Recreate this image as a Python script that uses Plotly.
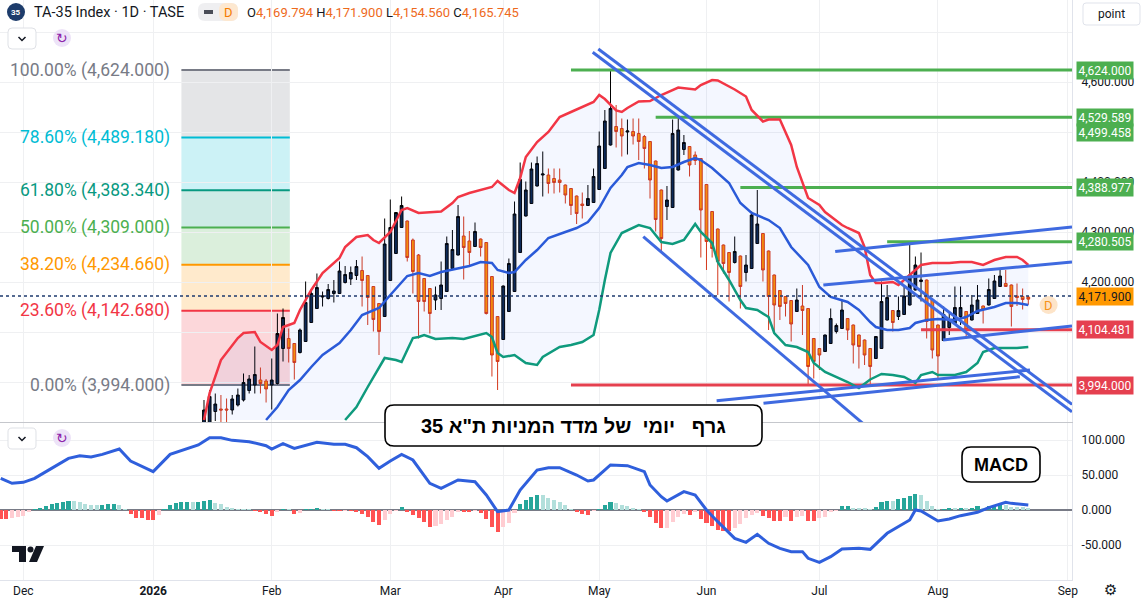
import plotly.graph_objects as go

# ---------------- price candles ----------------
# x = trading-day index (0 = first bar of December)
first_bar = 32
opens = [
    3910, 3915, 3941, 3946, 3946, 3944, 3954, 3964, 3983, 3994,
    4004, 4002, 3994, 3997, 4067, 4087, 4077, 4059, 4081, 4119,
    4147, 4170, 4167, 4177, 4177, 4199, 4206, 4213, 4223, 4213,
    4191, 4157, 4131, 4203, 4257, 4309, 4322, 4284, 4254, 4207,
    4187, 4164, 4167, 4181, 4227, 4254, 4292, 4282, 4271, 4286,
    4279, 4211, 4131, 4085, 4141, 4181, 4259, 4332, 4357, 4392,
    4414, 4414, 4407, 4404, 4394, 4387, 4372, 4356, 4353, 4359,
    4385, 4427, 4474, 4511, 4507, 4500, 4501, 4497, 4491, 4481,
    4442, 4384, 4351, 4349, 4424, 4465, 4471, 4454, 4447, 4395,
    4341, 4306, 4274, 4259, 4239, 4252, 4219, 4227, 4277, 4297,
    4262, 4214, 4183, 4171, 4163, 4141, 4152, 4147, 4087, 4067,
    4061, 4077, 4101, 4107, 4127, 4114, 4094, 4084, 4067, 4047,
    4067, 4124, 4143, 4131, 4135, 4154, 4184, 4201, 4204, 4164,
    4114, 4083, 4109, 4117, 4131, 4141, 4124, 4137, 4152, 4154,
    4167, 4191, 4197, 4194, 4172, 4171, 4169.794,
]
highs = [
    3964, 3984, 3977, 3974, 3967, 3974, 3987, 4017, 4014, 4071,
    4029, 4006, 4047, 4137, 4147, 4107, 4078, 4107, 4201, 4184,
    4217, 4181, 4196, 4204, 4241, 4232, 4231, 4244, 4251, 4214,
    4192, 4158, 4327, 4365, 4340, 4371, 4323, 4287, 4256, 4208,
    4188, 4191, 4241, 4291, 4304, 4354, 4331, 4302, 4319, 4287,
    4280, 4212, 4132, 4193, 4247, 4361, 4439, 4401, 4439, 4451,
    4461, 4427, 4427, 4427, 4395, 4388, 4373, 4379, 4394, 4427,
    4501, 4544, 4624, 4554, 4527, 4525, 4527, 4527, 4494, 4482,
    4443, 4385, 4392, 4525, 4534, 4494, 4472, 4461, 4448, 4396,
    4342, 4307, 4275, 4260, 4291, 4253, 4254, 4341, 4384, 4298,
    4263, 4215, 4184, 4172, 4164, 4187, 4194, 4148, 4088, 4068,
    4095, 4147, 4117, 4165, 4128, 4115, 4095, 4085, 4068, 4092,
    4201, 4194, 4144, 4171, 4192, 4274, 4251, 4259, 4205, 4165,
    4115, 4151, 4141, 4191, 4191, 4142, 4174, 4194, 4153, 4207,
    4214, 4225, 4224, 4195, 4197, 4187, 4171.9,
]
lows = [
    3905, 3910, 3922, 3920, 3918, 3935, 3951, 3961, 3977, 3977,
    3977, 3959, 3945, 3995, 4041, 4039, 4005, 4057, 4080, 4118,
    4146, 4151, 4165, 4159, 4176, 4197, 4194, 4204, 4151, 4114,
    4101, 4054, 4130, 4202, 4256, 4308, 4241, 4177, 4087, 4141,
    4097, 4144, 4144, 4180, 4224, 4253, 4205, 4231, 4270, 4251,
    4135, 4011, 3984, 4084, 4140, 4180, 4258, 4331, 4356, 4391,
    4371, 4377, 4377, 4379, 4357, 4334, 4316, 4327, 4352, 4358,
    4384, 4426, 4473, 4469, 4451, 4455, 4475, 4444, 4427, 4367,
    4301, 4261, 4324, 4348, 4423, 4454, 4411, 4434, 4249, 4224,
    4249, 4174, 4217, 4161, 4237, 4147, 4201, 4226, 4276, 4201,
    4104, 4101, 4124, 4131, 4081, 4140, 4094, 3994, 4007, 4024,
    4060, 4076, 4097, 4106, 4084, 4037, 4027, 4034, 3994, 4046,
    4066, 4123, 4101, 4124, 4134, 4153, 4183, 4161, 4087, 4047,
    4004, 4082, 4094, 4116, 4114, 4087, 4123, 4136, 4117, 4153,
    4166, 4190, 4190, 4111, 4152, 4145, 4154.56,
]
closes = [
    3944, 3971, 3956, 3944, 3944, 3966, 3974, 3999, 4006, 4015,
    3997, 3986, 4004, 4097, 4129, 4067, 4039, 4104, 4159, 4177,
    4189, 4172, 4185, 4182, 4222, 4215, 4219, 4231, 4203, 4169,
    4125, 4101, 4276, 4309, 4339, 4353, 4249, 4221, 4161, 4161,
    4137, 4174, 4194, 4277, 4265, 4331, 4269, 4259, 4301, 4269,
    4137, 4054, 4041, 4192, 4237, 4336, 4405, 4384, 4426, 4437,
    4416, 4397, 4399, 4399, 4374, 4353, 4337, 4353, 4367, 4411,
    4472, 4522, 4547, 4501, 4492, 4502, 4492, 4481, 4467, 4404,
    4325, 4287, 4364, 4497, 4504, 4479, 4434, 4443, 4344, 4281,
    4267, 4241, 4237, 4219, 4261, 4191, 4234, 4334, 4316, 4224,
    4171, 4154, 4151, 4157, 4116, 4164, 4143, 4031, 4041, 4054,
    4094, 4127, 4113, 4144, 4104, 4074, 4071, 4054, 4031, 4091,
    4161, 4169, 4119, 4143, 4172, 4214, 4234, 4204, 4121, 4064,
    4052, 4135, 4125, 4149, 4149, 4105, 4154, 4164, 4145, 4185,
    4202, 4212, 4191, 4151, 4169, 4165, 4165.745,
]
candle_bars = list(range(first_bar, first_bar + len(closes)))

# ---------------- Bollinger bands (bar, value) ----------------
bb_upper_bars = [32, 33, 35, 38, 39, 41, 42, 44, 45, 46, 47, 48, 49, 51, 53, 56, 57, 59, 61, 62,
                 63, 65, 67, 68, 70, 74, 76, 77, 79, 81, 83, 84, 86, 87, 88, 89, 91, 93, 95, 97,
                 99, 101, 102, 103, 105, 106, 107, 109, 111, 113, 116, 119, 120, 122, 123, 126, 128, 129, 131, 132,
                 134, 136, 137, 139, 141, 142, 145, 146, 148, 149, 150, 151, 152, 154, 155, 157, 159, 161, 164, 166,
                 168, 170, 172, 174, 176, 177, 178]
bb_upper = [3924, 3978, 4044, 4088, 4098, 4100, 4080, 4064, 4074, 4110, 4114, 4118, 4144, 4184, 4218, 4248, 4270, 4290, 4294, 4284,
            4278, 4300, 4344, 4348, 4338, 4341, 4358, 4370, 4378, 4384, 4390, 4402, 4384, 4378, 4408, 4450, 4480, 4500, 4530, 4540,
            4550, 4560, 4574, 4566, 4543, 4540, 4548, 4561, 4562, 4574, 4589, 4585, 4594, 4604, 4603, 4585, 4571, 4544, 4521, 4525,
            4525, 4474, 4430, 4368, 4354, 4340, 4314, 4308, 4298, 4270, 4214, 4198, 4198, 4200, 4194, 4214, 4234, 4238, 4238, 4240,
            4240, 4234, 4244, 4250, 4250, 4244, 4234]
bb_mid_bars = [43, 45, 47, 49, 51, 53, 56, 58, 60, 63, 65, 67, 68, 70, 72, 74, 77, 79, 81, 83,
               84, 86, 87, 89, 91, 93, 96, 98, 100, 102, 104, 106, 107, 109, 111, 113, 115, 117, 119, 120,
               122, 125, 127, 129, 132, 134, 136, 139, 141, 143, 146, 148, 150, 151, 153, 155, 157, 158, 160, 162,
               165, 167, 169, 172, 174, 176, 178]
bb_mid = [3924, 3950, 3984, 4004, 4030, 4054, 4078, 4104, 4134, 4148, 4174, 4200, 4212, 4218, 4212, 4220, 4228, 4232, 4240, 4238,
          4224, 4218, 4220, 4244, 4264, 4288, 4300, 4308, 4320, 4348, 4388, 4414, 4430, 4438, 4434, 4428, 4430, 4440, 4448, 4444,
          4428, 4398, 4358, 4338, 4324, 4308, 4270, 4234, 4190, 4170, 4160, 4144, 4120, 4110, 4104, 4104, 4108, 4118, 4124, 4126,
          4124, 4130, 4142, 4150, 4158, 4158, 4154]
bb_lower_bars = [57, 59, 61, 63, 64, 66, 67, 68, 69, 70, 71, 73, 76, 78, 80, 82, 83, 84, 85, 87,
                 89, 91, 92, 95, 97, 99, 101, 102, 103, 104, 106, 108, 109, 111, 113, 115, 117, 119, 120, 122,
                 123, 125, 127, 128, 130, 132, 133, 135, 137, 139, 140, 142, 144, 146, 148, 150, 152, 154, 156, 158,
                 159, 161, 162, 165, 167, 169, 170, 172, 174, 176, 178]
bb_lower = [3924, 3950, 3990, 4030, 4048, 4044, 4040, 4064, 4088, 4090, 4094, 4086, 4088, 4086, 4092, 4098, 4090, 4058, 4050, 4054,
            4038, 4034, 4050, 4070, 4074, 4080, 4094, 4144, 4204, 4258, 4298, 4308, 4314, 4308, 4280, 4276, 4284, 4316, 4300, 4278,
            4240, 4204, 4164, 4148, 4144, 4130, 4098, 4074, 4070, 4060, 4038, 4020, 4010, 4000, 3988, 4005, 4016, 4014, 4010, 3998,
            4014, 4020, 4014, 4014, 4020, 4038, 4060, 4068, 4068, 4068, 4070]

# ---------------- MACD pane ----------------
macd_bars = [-4, -2, 0, 2, 5, 8, 10, 12, 14, 17, 19, 23, 26, 31, 33, 35, 37, 40, 43, 44,
             46, 48, 52, 55, 57, 59, 61, 63, 65, 67, 69, 72, 74, 77, 80, 82, 84, 86, 88, 91,
             93, 95, 98, 100, 101, 104, 107, 110, 111, 113, 114, 117, 119, 121, 123, 125, 126, 128, 130, 132,
             134, 136, 138, 139, 141, 143, 145, 148, 150, 153, 155, 157, 158, 159, 162, 164, 166, 169, 171, 174,
             175, 178]
macd_line = [45.2, 38.1, 39.5, 45.2, 59.5, 73.8, 77.6, 75.7, 79.5, 87.1, 70.0, 54.8, 79.5, 92.9, 103.3, 103.3, 99.5, 97.6, 91.9, 87.1,
             94.8, 88.1, 96.7, 93.8, 93.8, 89.0, 76.2, 59.5, 70.0, 79.5, 71.4, 38.1, 31.0, 42.9, 40.5, 21.4, -2.4, 0.0, 28.6, 57.1,
             60.5, 60.5, 50.0, 41.4, 42.9, 64.3, 63.3, 54.8, 35.7, 19.0, 12.9, 26.2, 21.4, 0.0, -16.7, -33.3, -40.5, -46.2, -34.8, -47.6,
             -54.8, -59.5, -59.5, -69.0, -74.8, -66.7, -55.7, -54.8, -56.2, -33.3, -23.8, -14.3, 0.0, -1.4, -15.7, -12.9, -8.1, -3.3, 3.3, 11.0,
             9.5, 7.1]
hist_first_bar = -4
macd_hist = [
    -12.9, -12.9, -11.0, -9.5, -8.0, -3.3, 1.4, 2.4, 5.7, 8.6,
    10.5, 11.9, 12.9, 12.6, 11.0, 8.6, 7.1, 7.0, 7.3, 8.1,
    8.6, 7.1, 0.5, -6.2, -11.0, -11.9, -13.8, -14.5, -7.1, 1.4,
    7.1, 10.0, 11.0, 11.5, 11.0, 11.4, 12.4, 13.8, 10.5, 8.1,
    4.3, 2.4, 1.2, 0.8, 0.5, -1.0, -3.3, -5.7, -8.1, -3.3,
    1.4, 0.3, -5.2, -3.8, 0.8, 1.0, 3.3, 1.0, 0.5, -0.5,
    -0.8, -0.5, -1.4, -3.3, -6.2, -10.0, -16.7, -21.4, -14.3, -6.2,
    -1.4, 4.8, -2.4, -7.1, -11.9, -16.7, -23.8, -23.0, -20.5, -14.3,
    -9.5, -2.0, -2.4, -3.3, -1.4, -4.8, -12.9, -23.8, -31.0, -23.8,
    -19.0, -3.8, 8.1, 14.3, 18.1, 21.4, 21.0, 17.6, 14.3, 11.0,
    7.1, 0.5, -3.3, -6.2, -6.5, -1.4, 1.4, 7.1, 11.0, 9.5,
    7.1, 5.7, 2.4, 0.3, -3.3, -9.5, -19.0, -26.2, -25.5, -16.7,
    -9.5, -6.2, -6.8, -3.3, -12.9, -19.0, -22.9, -28.6, -30.0, -30.5,
    -26.2, -20.5, -11.9, -7.1, -4.8, -8.1, -11.9, -15.7, -16.0, -9.5,
    -15.7, -9.5, -9.0, -15.7, -16.0, -11.0, -9.5, -3.3, -0.3, 5.7,
    5.9, 3.3, 3.0, 2.4, 0.4, 4.8, 11.0, 12.9, 12.5, 15.7,
    16.7, 20.5, 22.9, 21.4, 12.9, 5.7, 0.3, 1.4, 2.4, 2.2,
    3.3, 2.4, 3.3, 5.2, 3.3, 6.2, 7.1, 8.1, 7.1, 4.8,
    4.3, 3.8, 2.4,
]
hist_bars = list(range(hist_first_bar, hist_first_bar + len(macd_hist)))

# ---------------- axis labels ----------------
month_bars = [0, 23, 44, 65, 85, 102, 121, 141, 162, 185]
month_names = ["Dec", "<b>2026</b>", "Feb", "Mar", "Apr", "May", "Jun", "Jul", "Aug", "Sep"]
price_ticks = [4000, 4100, 4200, 4300, 4400, 4500, 4600, 4700]
price_tick_text = ["", "", "4,200.000", "4,300.000", "4,400.000", "", "4,600.000", ""]  # others sit under tags
macd_ticks = [-50, 0, 50, 100]

# ---------------- drawings ----------------
fib_ratios = [1.0, 0.786, 0.618, 0.5, 0.382, 0.236, 0.0]
fib_prices = [4624.0, 4489.18, 4383.34, 4309.0, 4234.66, 4142.68, 3994.0]
fib_colors = ["#787b86", "#00bcd4", "#089981", "#4caf50", "#ff9800", "#f23645", "#787b86"]
fib_fills = ["rgba(120,123,134,0.2)", "rgba(0,188,212,0.2)", "rgba(8,153,129,0.2)",
             "rgba(76,175,80,0.2)", "rgba(255,152,0,0.2)", "rgba(242,54,69,0.2)"]
fib_from_bar, fib_to_bar = 28.0, 47.2

level_prices = [4624.0, 4529.589, 4388.977, 4280.505, 4104.481, 3994.0]
level_from_bars = [97, 112, 127, 153, 159, 97]
level_colors = ["#4caf50", "#4caf50", "#4caf50", "#4caf50", "#e5404f", "#e5404f"]

# price-scale tags: (price, text, background, text colour)
scale_tags = [
    (4624.0, "4,624.000", "#4caf50", "white"),
    (4529.589, "4,529.589", "#4caf50", "white"),
    (4499.458, "4,499.458", "#4caf50", "white"),
    (4388.977, "4,388.977", "#4caf50", "white"),
    (4280.505, "4,280.505", "#4caf50", "white"),
    (4171.9, "4,171.900", "#ff9800", "#131722"),
    (4104.481, "4,104.481", "#e5404f", "white"),
    (3994.0, "3,994.000", "#e5404f", "white"),
]
last_price = 4171.9

# trend lines: (bar0, price0, bar1, price1)
trend_lines = [
    (100.85, 4659.4, 185.74, 3940.4),
    (101.84, 4666.0, 185.74, 3955.4),
    (109.8, 4290.6, 150.0, 3904.7),
    (143.8, 4261.0, 185.74, 4310.0),
    (141.7, 4194.0, 185.74, 4240.0),
    (122.8, 3962.6, 178.3, 4024.0),
    (131.1, 3957.4, 176.5, 4010.6),
    (162.9, 4084.0, 185.74, 4112.0),
]

X_LO, X_HI = -4.13, 185.74
FONT = "Roboto, Liberation Sans, sans-serif"
W, H = 1147, 610
PW, PH = 1072, 580          # plot area in pixels


def px(x):
    return x / PW


def py(y):
    return (PH - y) / PH


def rrect(x0, y0, x1, y1, r):
    pts = [("M", x0 + r, y0), ("L", x1 - r, y0), ("Q", x1, y0, x1, y0 + r), ("L", x1, y1 - r),
           ("Q", x1, y1, x1 - r, y1), ("L", x0 + r, y1), ("Q", x0, y1, x0, y1 - r),
           ("L", x0, y0 + r), ("Q", x0, y0, x0 + r, y0)]
    out = ""
    for p in pts:
        if p[0] == "Q":
            out += f"Q{px(p[1]):.5f},{py(p[2]):.5f} {px(p[3]):.5f},{py(p[4]):.5f} "
        else:
            out += f"{p[0]}{px(p[1]):.5f},{py(p[2]):.5f} "
    return out + "Z"


def poly(points):
    return "M" + " L".join(f"{px(a):.5f},{py(b):.5f}" for a, b in points) + " Z"


def note(x, y, text, size, color, family=FONT, xanchor="center", **kw):
    return dict(x=px(x), y=py(y), xref="paper", yref="paper", xanchor=xanchor, yanchor="middle",
                showarrow=False, text=text, font=dict(size=size, color=color, family=family), **kw)


fig = go.Figure()

# Bollinger band fill (upper path then lower path back)
fig.add_trace(go.Scatter(
    x=bb_upper_bars + bb_lower_bars[::-1], y=bb_upper + bb_lower[::-1],
    fill="toself", fillcolor="rgba(41,98,255,0.05)", line=dict(width=0),
    mode="lines", hoverinfo="skip", showlegend=False))

for price, start, col in zip(level_prices, level_from_bars, level_colors):
    fig.add_trace(go.Scatter(x=[start, X_HI], y=[price, price], mode="lines",
                             line=dict(color=col, width=3), hoverinfo="skip", showlegend=False))

fig.add_trace(go.Scatter(x=bb_upper_bars, y=bb_upper, mode="lines",
                         line=dict(color="#f23645", width=2.5), hoverinfo="skip", showlegend=False))
fig.add_trace(go.Scatter(x=bb_mid_bars, y=bb_mid, mode="lines",
                         line=dict(color="#2a5ad8", width=2.5), hoverinfo="skip", showlegend=False))
fig.add_trace(go.Scatter(x=bb_lower_bars, y=bb_lower, mode="lines",
                         line=dict(color="#0f9a7d", width=2.5), hoverinfo="skip", showlegend=False))

fig.add_trace(go.Candlestick(
    x=candle_bars, open=opens, high=highs, low=lows, close=closes,
    increasing=dict(fillcolor="#0c2850", line=dict(color="#000000", width=1)),
    decreasing=dict(fillcolor="#ff8f00", line=dict(color="#d4391c", width=1)),
    whiskerwidth=0, hoverinfo="skip", showlegend=False))

for b0, p0, b1, p1 in trend_lines:
    fig.add_trace(go.Scatter(x=[b0, b1], y=[p0, p1], mode="lines",
                             line=dict(color="#3f6ae0", width=3), hoverinfo="skip", showlegend=False))

# MACD histogram colours: growing / falling
hist_colors = []
prev = None
for v in macd_hist:
    if v >= 0:
        hist_colors.append("#26a69a" if prev is None or v >= prev else "#b2dfdb")
    else:
        hist_colors.append("#ff5252" if prev is None or v <= prev else "#ffcdd2")
    prev = v

fig.add_trace(go.Bar(x=hist_bars, y=macd_hist, marker=dict(color=hist_colors, line=dict(width=0)),
                     width=0.72, xaxis="x2", yaxis="y2", hoverinfo="skip", showlegend=False))
fig.add_trace(go.Scatter(x=macd_bars, y=macd_line, mode="lines", line=dict(color="#2f5fdc", width=3),
                         xaxis="x2", yaxis="y2", hoverinfo="skip", showlegend=False))

shapes = []
# fibonacci retracement box
for k in range(len(fib_fills)):
    shapes.append(dict(type="rect", xref="x", yref="y", x0=fib_from_bar, x1=fib_to_bar,
                       y0=fib_prices[k + 1], y1=fib_prices[k], fillcolor=fib_fills[k],
                       line=dict(width=0), layer="below"))
for price, col in zip(fib_prices, fib_colors):
    shapes.append(dict(type="line", xref="x", yref="y", x0=fib_from_bar, x1=fib_to_bar,
                       y0=price, y1=price, line=dict(color=col, width=2), layer="below"))

# last price dotted line
shapes.append(dict(type="line", xref="x domain", yref="y", x0=0, x1=1, y0=last_price, y1=last_price,
                   line=dict(color="#1e3a6e", width=1.5, dash="dot")))

# "D" marker
shapes.append(dict(type="circle", xref="x", yref="y", x0=180.0, x1=183.2, y0=4136, y1=4172,
                   fillcolor="#fde4c8", line=dict(width=0)))

# text boxes
shapes.append(dict(type="path", xref="paper", yref="paper", path=rrect(385, 405, 762, 446, 9),
                   fillcolor="white", line=dict(color="#000000", width=1.6)))
shapes.append(dict(type="path", xref="paper", yref="paper", path=rrect(962, 447, 1040, 482, 9),
                   fillcolor="white", line=dict(color="#000000", width=1.6)))

# header / pane widgets
shapes.append(dict(type="circle", xref="paper", yref="paper", x0=px(7), x1=px(25), y0=py(21), y1=py(3),
                   fillcolor="#1d3c6b", line=dict(width=0)))
shapes.append(dict(type="path", xref="paper", yref="paper", path=rrect(198, 3, 238, 21, 7),
                   fillcolor="#efeff1", line=dict(width=0)))
shapes.append(dict(type="path", xref="paper", yref="paper", path=rrect(219, 3, 238, 21, 7),
                   fillcolor="#fde8d0", line=dict(width=0)))
shapes.append(dict(type="rect", xref="paper", yref="paper", x0=px(204), x1=px(213), y0=py(14), y1=py(10),
                   fillcolor="#4a4d57", line=dict(width=0)))
for top in (28, 428):
    shapes.append(dict(type="path", xref="paper", yref="paper", path=rrect(8, top, 36, top + 21, 4),
                       fillcolor="white", line=dict(color="#dfe1e6", width=1)))
    shapes.append(dict(type="path", xref="paper", yref="paper",
                       path=f"M{px(18.5):.5f},{py(top + 9):.5f} L{px(22):.5f},{py(top + 12.5):.5f} L{px(25.5):.5f},{py(top + 9):.5f}",
                       line=dict(color="#131722", width=1.5)))
    shapes.append(dict(type="circle", xref="paper", yref="paper", x0=px(53), x1=px(71),
                       y0=py(top + 19), y1=py(top + 1), fillcolor="#ede3f8", line=dict(width=0)))
shapes.append(dict(type="path", xref="paper", yref="paper", path=rrect(1083, 3, 1140, 25, 3),
                   fillcolor="white", line=dict(color="#e0e3eb", width=1)))

# TradingView mark
shapes.append(dict(type="path", xref="paper", yref="paper",
                   path=poly([(12, 546), (26, 546), (26, 562), (19, 562), (19, 552), (12, 552)]),
                   fillcolor="#131722", line=dict(width=0)))
shapes.append(dict(type="circle", xref="paper", yref="paper", x0=px(27.5), x1=px(33.5), y0=py(552.5), y1=py(546.5),
                   fillcolor="#131722", line=dict(width=0)))
shapes.append(dict(type="path", xref="paper", yref="paper",
                   path=poly([(36, 546), (44, 546), (37, 562), (29, 562)]),
                   fillcolor="#131722", line=dict(width=0)))

annotations = []
for price, ratio, col in zip(fib_prices, fib_ratios, fib_colors):
    annotations.append(dict(x=fib_from_bar, y=price, xref="x", yref="y", xanchor="right", yanchor="middle",
                            xshift=-9, text=f"{ratio * 100:.2f}% ({price:,.3f})", showarrow=False,
                            font=dict(size=17.5, color=col, family=FONT)))
for price, txt, bg, fg in scale_tags:
    annotations.append(dict(x=1, y=price, xref="paper", yref="y", xanchor="left", yanchor="middle", xshift=4,
                            text=txt, showarrow=False, bgcolor=bg, borderpad=1.5,
                            font=dict(size=12, color=fg, family=FONT)))
annotations.append(dict(x=181.6, y=4154, xref="x", yref="y", xanchor="center", yanchor="middle",
                        text="D", showarrow=False, font=dict(size=13, color="#f7931a", family=FONT)))

annotations.append(note(573.5, 425.5, "<b>\u202bגרף\u00a0\u00a0 יומי\u00a0 של מדד המניות ת\"א 35\u202c</b>",
                        20, "#000000", family="Liberation Sans, DejaVu Sans, sans-serif"))
annotations.append(note(1001, 464.5, "<b>MACD</b>", 18, "#000000", family="Liberation Sans, sans-serif"))

annotations.append(note(16, 12, "<b>35</b>", 8, "white"))
annotations.append(note(32, 12, "TA-35 Index · 1D · TASE", 14.5, "#131722", xanchor="left"))
annotations.append(note(228.5, 12, "D", 13, "#f57c00"))
ohlc = ("O<span style='color:#ee6a1c'>4,169.794</span> H<span style='color:#ee6a1c'>4,171.900</span> "
        "L<span style='color:#ee6a1c'>4,154.560</span> C<span style='color:#ee6a1c'>4,165.745</span>")
annotations.append(note(245, 12, ohlc, 13, "#131722", xanchor="left"))
for top in (28, 428):
    annotations.append(note(62, top + 10, "↻", 14, "#8e24aa", family="DejaVu Sans"))
annotations.append(note(1111.5, 14, "point", 12, "#131722"))
annotations.append(note(1110, 590, "⚙", 15, "#131722", family="DejaVu Sans"))

grid = "#eff0f2"
fig.update_layout(
    width=W, height=H,
    margin=dict(l=0, r=W - PW, t=0, b=H - PH),
    paper_bgcolor="white", plot_bgcolor="white",
    showlegend=False, hovermode=False, dragmode=False,
    font=dict(family=FONT, color="#131722", size=12),
    bargap=0,
    xaxis=dict(domain=[0, 1], anchor="y", range=[X_LO, X_HI], tickmode="array", tickvals=month_bars,
               showticklabels=False, showgrid=True, gridcolor=grid, zeroline=False,
               showline=True, linecolor="#c5c7cc", linewidth=1, rangeslider=dict(visible=False), ticks=""),
    yaxis=dict(domain=[(PH - 422) / PH, 1], anchor="x", side="right", range=[3920, 4764],
               tickmode="array", tickvals=price_ticks, ticktext=price_tick_text,
               showgrid=True, gridcolor=grid, zeroline=False, showline=True, linecolor="#e0e3eb",
               ticks="", ticklabelstandoff=6, tickfont=dict(size=12, color="#131722")),
    xaxis2=dict(domain=[0, 1], anchor="y2", matches="x", range=[X_LO, X_HI], tickmode="array",
                tickvals=month_bars, ticktext=month_names, showgrid=True, gridcolor=grid, zeroline=False,
                showline=True, linecolor="#e0e3eb", ticks="", tickfont=dict(size=12, color="#131722")),
    yaxis2=dict(domain=[0, (PH - 423) / PH], anchor="x2", side="right", range=[-100, 124.3],
                tickmode="array", tickvals=macd_ticks, ticktext=[f"{v:.3f}" for v in macd_ticks],
                showgrid=True, gridcolor=grid, zeroline=True, zerolinecolor="#787b86", zerolinewidth=1.5,
                showline=True, linecolor="#e0e3eb", ticks="", ticklabelstandoff=6,
                tickfont=dict(size=12, color="#131722")),
    shapes=shapes,
    annotations=annotations,
)

fig.write_html("out.html", config={"displayModeBar": False},
               post_script="document.body.style.margin='0';")
